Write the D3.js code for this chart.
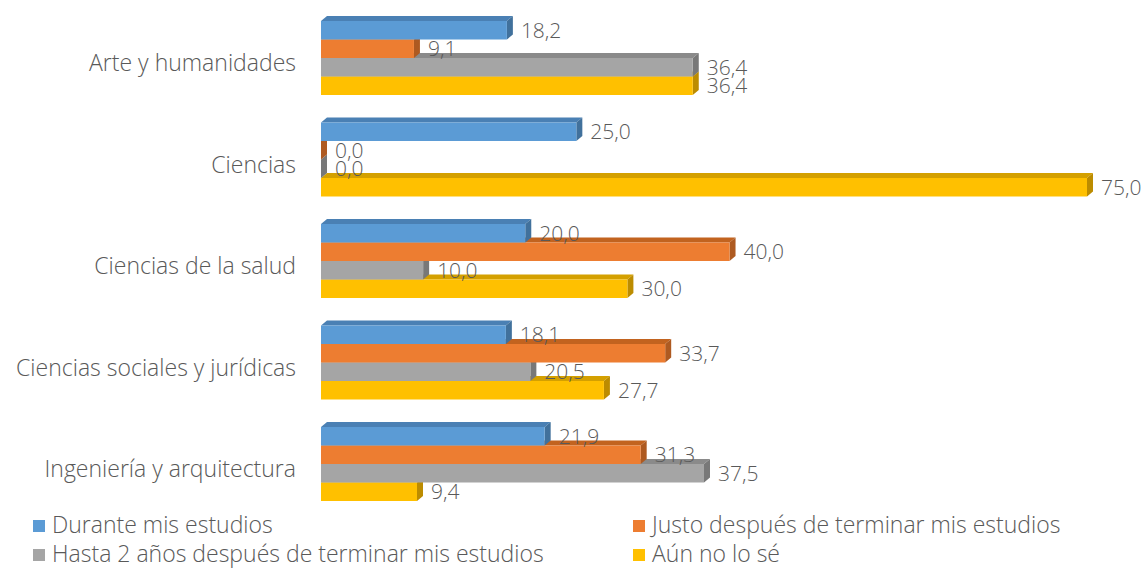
<!DOCTYPE html>
<html>
<head>
<meta charset="utf-8">
<script src="https://cdn.jsdelivr.net/npm/d3@7"></script>
<style>
  body { margin: 0; background: #fff; }
  svg { display: block; font-family: "Open Sans", "Lato", sans-serif; font-weight: 300; }
</style>
</head>
<body>
<svg id="chart" width="1145" height="569"></svg>
<script>
// Chart data
const categories = ["Arte y humanidades", "Ciencias", "Ciencias de la salud", "Ciencias sociales y jurídicas", "Ingeniería y arquitectura"];
const seriesNames = ["Durante mis estudios", "Justo después de terminar mis estudios", "Hasta 2 años después de terminar mis estudios", "Aún no lo sé"];
const durante = [18.2, 25.0, 20.0, 18.1, 21.9];
const justo = [9.1, 0.0, 40.0, 33.7, 31.3];
const hasta2 = [36.4, 0.0, 10.0, 20.5, 37.5];
const aunNo = [36.4, 75.0, 30.0, 27.7, 9.4];
const seriesValues = [durante, justo, hasta2, aunNo];

const colors = ["#5B9BD5", "#ED7D31", "#A5A5A5", "#FFC000"];
const darkColors = ["#41719C", "#AE5A21", "#787878", "#BC8C00"];
const topColors = ["#4A80B4", "#C2631F", "#8A8A8A", "#D4A000"];

const svg = d3.select("#chart");
const textColor = "#595959";

// Scales
const x = d3.scaleLinear().domain([0, 75]).range([321, 1087]);
const y = d3.scaleBand().domain(categories)
    .range([7.25, 514.75])
    .paddingInner(0.271)
    .paddingOuter(0.1355);
const ySeries = d3.scaleBand().domain(d3.range(seriesNames.length)).range([0, y.bandwidth()]);

const dx = 6, dy = 5;  // 3D depth offset

// Flatten into bar records
const bars = [];
categories.forEach((c, ci) => {
    seriesValues.forEach((vals, si) => {
        bars.push({ cat: c, s: si, v: vals[ci] });
    });
});

// Draw bottom series first so upper bars cover the top faces of lower ones
const barLayer = svg.append("g");
const sorted = bars.slice().sort((a, b) => (b.s - a.s));

sorted.forEach(d => {
    const x0 = x(0), x1 = x(d.v);
    const y0 = y(d.cat) + ySeries(d.s);
    const y1 = y0 + ySeries.bandwidth();
    const g = barLayer.append("g");
    // top face
    g.append("path")
        .attr("d", `M${x0},${y0}L${x0 + dx},${y0 - dy}L${x1 + dx},${y0 - dy}L${x1},${y0}Z`)
        .attr("fill", topColors[d.s]);
    // side face
    g.append("path")
        .attr("d", `M${x1},${y0}L${x1 + dx},${y0 - dy}L${x1 + dx},${y1 - dy}L${x1},${y1}Z`)
        .attr("fill", darkColors[d.s]);
    // front face
    g.append("rect")
        .attr("x", x0)
        .attr("y", y0)
        .attr("width", Math.max(0, x1 - x0))
        .attr("height", y1 - y0)
        .attr("fill", colors[d.s]);
});

// Value labels
svg.append("g").selectAll("text")
    .data(bars)
    .join("text")
    .attr("x", d => x(d.v) + 14)
    .attr("y", d => y(d.cat) + ySeries(d.s) + ySeries.bandwidth() / 2 + 2)
    .attr("dominant-baseline", "middle")
    .attr("fill", textColor)
    .attr("font-size", 21)
    .text(d => d.v.toFixed(1).replace(".", ","));

// Category axis
const yAxis = svg.append("g")
    .attr("transform", "translate(296,6)")
    .call(d3.axisLeft(y).tickSize(0).tickPadding(0));
yAxis.select(".domain").remove();
yAxis.selectAll("text")
    .attr("fill", textColor)
    .attr("font-size", 23)
    .attr("font-family", "'Open Sans', Lato, sans-serif")
    .attr("font-weight", 300);

// Legend
const legendPos = [[33, 526], [633, 526], [33, 555], [633, 555]];
const legend = svg.append("g").selectAll("g")
    .data(seriesNames)
    .join("g")
    .attr("transform", (d, i) => `translate(${legendPos[i][0]},${legendPos[i][1]})`);
legend.append("rect")
    .attr("x", 0).attr("y", -6)
    .attr("width", 12).attr("height", 12)
    .attr("fill", (d, i) => colors[i]);
legend.append("text")
    .attr("x", 19)
    .attr("y", 1)
    .attr("dominant-baseline", "middle")
    .attr("fill", textColor)
    .attr("font-size", 23)
    .text(d => d);
</script>
</body>
</html>
